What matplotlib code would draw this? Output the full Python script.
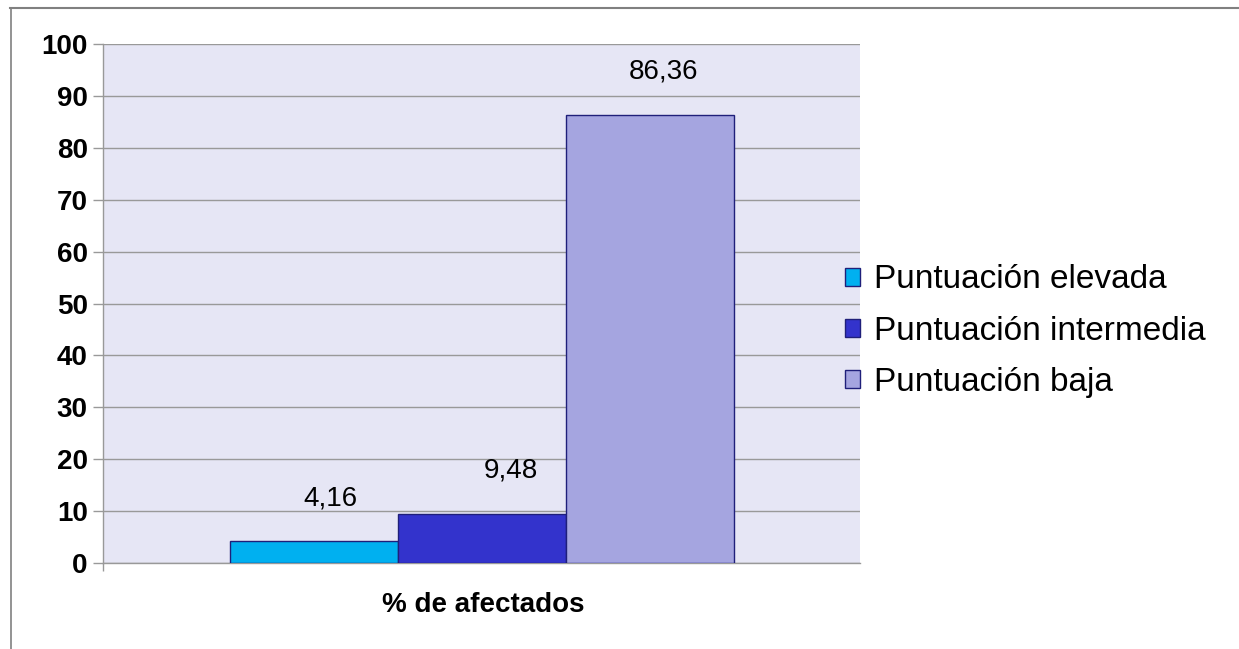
import matplotlib
matplotlib.use("Agg")
import matplotlib.pyplot as plt
from matplotlib.lines import Line2D
from matplotlib.patches import Patch

plt.rcParams['font.family'] = ['Liberation Sans', 'DejaVu Sans']

category = "% de afectados"
series = ["Puntuación elevada", "Puntuación intermedia", "Puntuación baja"]
values = [4.16, 9.48, 86.36]
value_labels = ["4,16", "9,48", "86,36"]
colors = ["#00B0F0", "#3333CC", "#A5A5E0"]
yticks = [0, 10, 20, 30, 40, 50, 60, 70, 80, 90, 100]

# label offsets (points), layout only
label_dx = [12, 21, 10]
label_dy = 31

W, H = 1239, 649
fig = plt.figure(figsize=(W / 100, H / 100), dpi=100)
fig.patch.set_facecolor("white")

ax = fig.add_axes([103 / W, 1 - 563 / H, (860 - 103) / W, (563 - 44) / H])
ax.set_facecolor("#E6E6F5")

bar_w = 168 / (860 - 103)
n = len(values)
for i, (v, c, lab) in enumerate(zip(values, colors, value_labels)):
    x = (i - (n - 1) / 2) * bar_w
    ax.bar(x, v, width=bar_w, color=c, edgecolor="#1F1F7A", linewidth=1.0, zorder=3)
    ax.annotate(lab, (x, v), xytext=(label_dx[i], label_dy), textcoords="offset points",
                ha="center", va="center", fontsize=20, color="black")

ax.set_xlim(-0.5, 0.5)
ax.set_ylim(0, 100)
ax.set_yticks(yticks)
ax.set_yticklabels([str(t) for t in yticks], fontsize=20, fontweight="bold")
ax.yaxis.grid(True, color="#999999", linewidth=1.0, zorder=0)
ax.set_axisbelow(True)
ax.tick_params(axis="y", length=7, width=1, color="#999999", pad=4)
ax.set_xticks([-0.5])
ax.set_xticklabels([""])
ax.tick_params(axis="x", length=6, width=1, color="#999999")
for s in ["top", "right"]:
    ax.spines[s].set_visible(False)
for s in ["left", "bottom"]:
    ax.spines[s].set_color("#999999")
    ax.spines[s].set_linewidth(1.0)

fig.text(483 / W, 1 - 605 / H, category, ha="center", va="center", fontsize=20,
         fontweight="bold")

handles = [Patch(facecolor=c, edgecolor="#1F1F7A", linewidth=1.0) for c in colors]
fig.legend(handles, series, loc="center left", bbox_to_anchor=(845 / W, 1 - 331 / H),
           frameon=False, fontsize=24, handlelength=0.46, handleheight=0.46,
           handletextpad=0.4, labelspacing=0.6, borderpad=0, borderaxespad=0)

fig.add_artist(Line2D([10 / W, 1], [1 - 8 / H, 1 - 8 / H], color="#808080", linewidth=1.5,
                      transform=fig.transFigure))
fig.add_artist(Line2D([11 / W, 11 / W], [0, 1 - 8 / H], color="#808080", linewidth=1.2,
                      transform=fig.transFigure))

fig.savefig("out.png", dpi=100)
